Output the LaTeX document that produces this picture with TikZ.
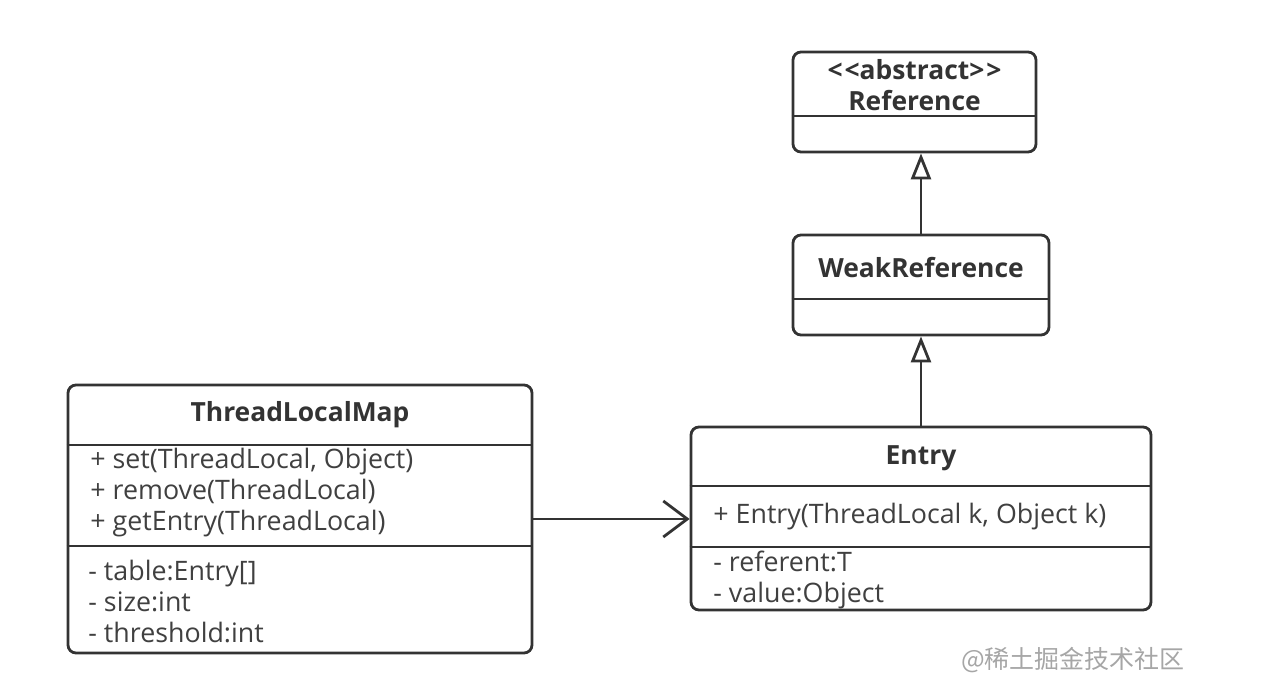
\documentclass[tikz,border=0pt]{standalone}
\usepackage{fontspec}
\setmainfont{Open Sans}
\newfontfamily\cjkfont{Noto Sans CJK SC}
\usetikzlibrary{positioning, arrows.meta}

\begin{document}
\begin{tikzpicture}[
    x=0.5pt, y=-0.5pt,
    classbox/.style={
        rectangle, rounded corners=4pt,
        draw=black!80, line width=1.4pt,
        fill=white, inner sep=0pt
    },
    title/.style={font=\fontsize{13.2}{15}\selectfont\bfseries, text=black!80, inner sep=0pt},
    member/.style={font=\fontsize{13.4}{15.5}\selectfont, text=black!75, align=left, anchor=west, inner sep=0pt},
    divider/.style={draw=black!80, line width=1.4pt},
    inherit/.style={draw=black!80, line width=1.4pt, -{Triangle[open, length=13pt, width=10pt]}},
    assoc/.style={draw=black!80, line width=1.4pt, -{Straight Barb[length=12pt, width=18pt]}},
    watermark/.style={font=\cjkfont\fontsize{12.5}{14}\selectfont, text=black!35, inner sep=0pt}
]
\useasboundingbox (0,0) rectangle (1268,697);

% Class boxes
\node[classbox, minimum width=121.5pt, minimum height=50pt] (ref) at (914.5,102) {};
\node[classbox, minimum width=128pt, minimum height=50pt] (weak) at (921,285) {};
\node[classbox, minimum width=230pt, minimum height=91.5pt] (entry) at (921,518.5) {};
\node[classbox, minimum width=232pt, minimum height=134pt] (tlm) at (300,519) {};

% Compartment lines
\draw[divider] (ref.west |- 0,116) -- (ref.east |- 0,116);
\draw[divider] (weak.west |- 0,299) -- (weak.east |- 0,299);
\draw[divider] (entry.west |- 0,486) -- (entry.east |- 0,486);
\draw[divider] (entry.west |- 0,547) -- (entry.east |- 0,547);
\draw[divider] (tlm.west |- 0,445) -- (tlm.east |- 0,445);
\draw[divider] (tlm.west |- 0,546) -- (tlm.east |- 0,546);

% Class names
\node[title] (refstereo) at (ref.north |- 0,70) {<\kern1pt<abstract>\kern1pt>};
\node[title] (refname) at (ref.north |- 0,101) {Reference};
\node[title] (weakname) at (weak.north |- 0,268) {WeakReference};
\node[title] (entryname) at (entry.north |- 0,458) {Entry};
\node[title] (tlmname) at (tlm.north |- 0,415) {ThreadLocalMap};

% Members
\node[member] (tlmops) at (90,493) {+ set(ThreadLocal, Object)\\+ remove(ThreadLocal)\\+ getEntry(ThreadLocal)};
\node[member] (tlmattrs) at (88,601) {- table:Entry[]\\- size:int\\- threshold:int};
\node[member] (entryops) at (713,517) {+ Entry(ThreadLocal k, Object k)};
\node[member] (entryattrs) at (713,580) {- referent:T\\- value:Object};

% Relations
\draw[inherit] (weak.north) -- (weak.north |- ref.south);
\draw[inherit] (entry.north) -- (entry.north |- weak.south);
\draw[assoc] (tlm.east) -- (tlm.east -| entry.west);

\node[watermark] (mark) at (1073,660) {@稀土掘金技术社区};

\end{tikzpicture}
\end{document}
